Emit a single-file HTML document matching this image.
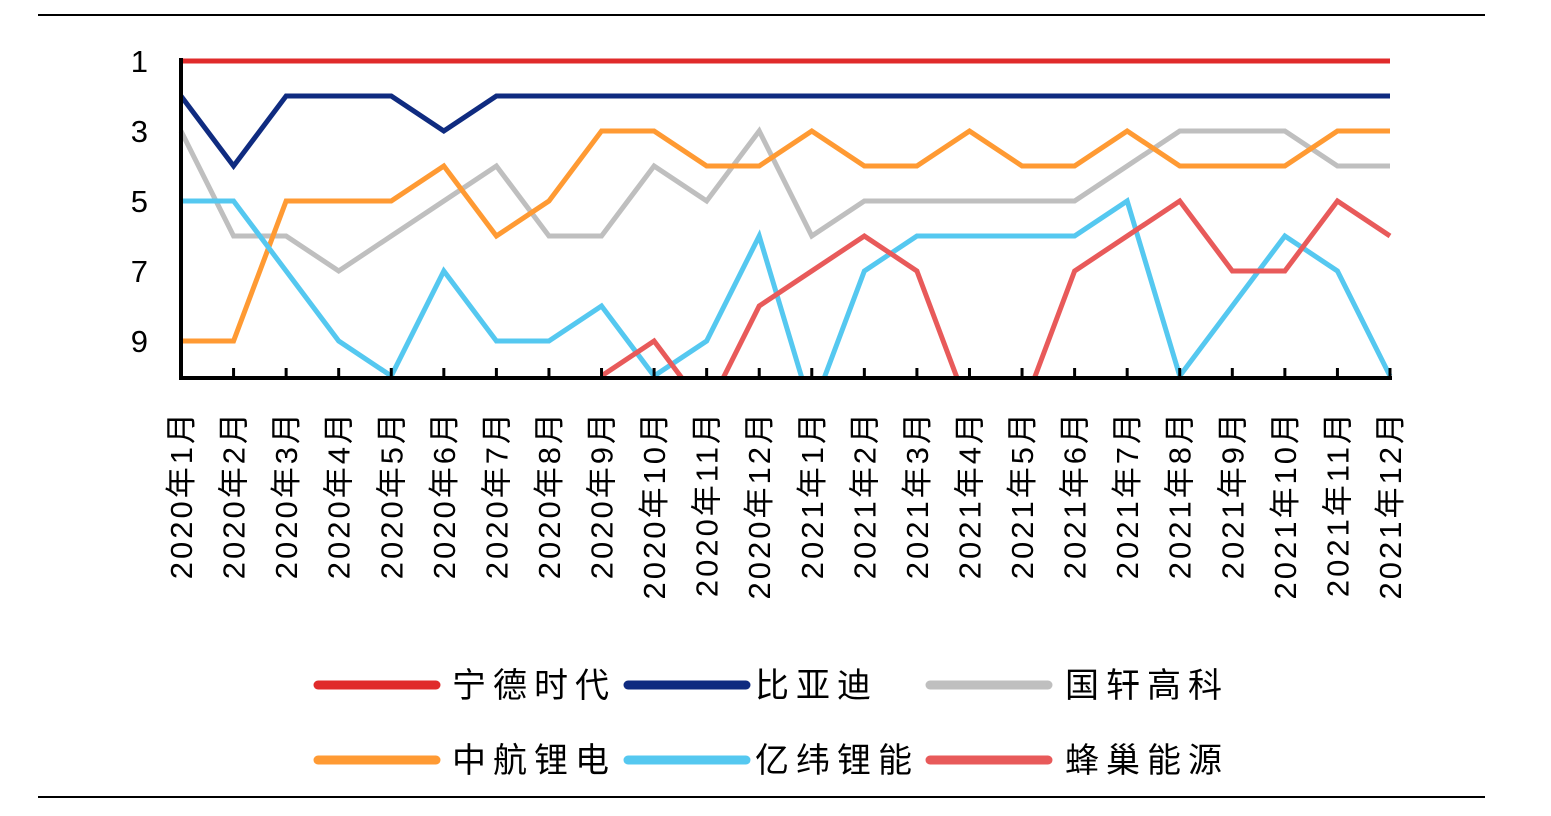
<!DOCTYPE html>
<html><head><meta charset="utf-8"><style>
body{margin:0;background:#fff;width:1551px;height:811px;overflow:hidden}
svg text{font-family:"Liberation Sans","Noto Sans CJK SC",sans-serif;fill:#000}
</style></head><body>
<svg id="chart" width="1551" height="811" xmlns="http://www.w3.org/2000/svg">
<defs><clipPath id="plot"><rect x="170" y="40" width="1240" height="338"/></clipPath></defs>
<line x1="38" y1="15" x2="1485" y2="15" stroke="#000" stroke-width="2"/>
<line x1="38" y1="797" x2="1485" y2="797" stroke="#000" stroke-width="2"/>
<g id="series" clip-path="url(#plot)"></g>
<g id="axes"></g>
<g id="legend"></g>
</svg>
<script>
const categories=["2020年1月","2020年2月","2020年3月","2020年4月","2020年5月","2020年6月","2020年7月","2020年8月","2020年9月","2020年10月","2020年11月","2020年12月","2021年1月","2021年2月","2021年3月","2021年4月","2021年5月","2021年6月","2021年7月","2021年8月","2021年9月","2021年10月","2021年11月","2021年12月"];
const seriesNames=["宁德时代","比亚迪","国轩高科","中航锂电","亿纬锂能","蜂巢能源"];
const seriesColors=["#e02b2b","#0f2b80","#bfbfbf","#ff9a33","#55c8f0","#e85a5a"];
const catl=[1,1,1,1,1,1,1,1,1,1,1,1,1,1,1,1,1,1,1,1,1,1,1,1];
const byd=[2,4,2,2,2,3,2,2,2,2,2,2,2,2,2,2,2,2,2,2,2,2,2,2];
const gotion=[3,6,6,7,6,5,4,6,6,4,5,3,6,5,5,5,5,5,4,3,3,3,4,4];
const calb=[9,9,5,5,5,4,6,5,3,3,4,4,3,4,4,3,4,4,3,4,4,4,3,3];
const eve=[5,5,7,9,10,7,9,9,8,10,9,6,11,7,6,6,6,6,5,10,8,6,7,10];
const svolt=[null,null,null,null,null,null,null,null,10,9,11,8,7,6,7,11,11,7,6,5,7,7,5,6];
const yTicks=[1,3,5,7,9];
const allSeries=[catl,byd,gotion,calb,eve,svolt];
const NS="http://www.w3.org/2000/svg";
const X=i=>181+i*(1390-181)/(categories.length-1);
const Y=v=>61+(v-1)*35;
function mk(t,a,p){const e=document.createElementNS(NS,t);for(const k in a)e.setAttribute(k,a[k]);p.appendChild(e);return e;}
const sg=document.getElementById('series'),ag=document.getElementById('axes'),lg=document.getElementById('legend');
[2,3,4,5,1,0].forEach(s=>{
  const d=allSeries[s];let path="",pen=false;
  d.forEach((v,i)=>{if(v==null){pen=false;return;}path+=(pen?"L":"M")+X(i)+" "+Y(v)+" ";pen=true;});
  const p=mk('path',{d:path,fill:"none",stroke:seriesColors[s],"stroke-width":5,"stroke-linejoin":"miter"},sg);
  
  
});
const ya=mk('line',{x1:181,y1:58,x2:181,y2:379,stroke:"#000","stroke-width":4},ag);


const xa=mk('line',{x1:179,y1:378,x2:1392,y2:378,stroke:"#000","stroke-width":4},ag);


yTicks.forEach(v=>{
  const t=mk('text',{x:148,y:Y(v)+11,"text-anchor":"end","font-size":31},ag);t.textContent=v;
  
  
});
categories.forEach((c,i)=>{
  if(i>0){const tk=mk('line',{x1:X(i),y1:368,x2:X(i),y2:378,stroke:"#000","stroke-width":3},ag);
  
  }
  const t=mk('text',{x:0,y:0,"text-anchor":"end","font-size":31,"letter-spacing":"3",fill:"#111",transform:`translate(${X(i)+11},410) rotate(-90)`},ag);
  t.textContent=c;
  
  
});
const lpos=[[318,452,685],[628,755,685],[930,1065,685],[318,452,760],[628,755,760],[930,1065,760]];
seriesNames.forEach((n,s)=>{
  const [lx,tx,ly]=lpos[s];
  const g=mk('g',{},lg);
  
  
  mk('line',{x1:lx,y1:ly,x2:lx+118,y2:ly,stroke:seriesColors[s],"stroke-width":9,"stroke-linecap":"round"},g);
  const t=mk('text',{x:tx,y:ly+12,"font-size":34,"letter-spacing":"7"},g);t.textContent=n;
});
</script>
</body></html>
